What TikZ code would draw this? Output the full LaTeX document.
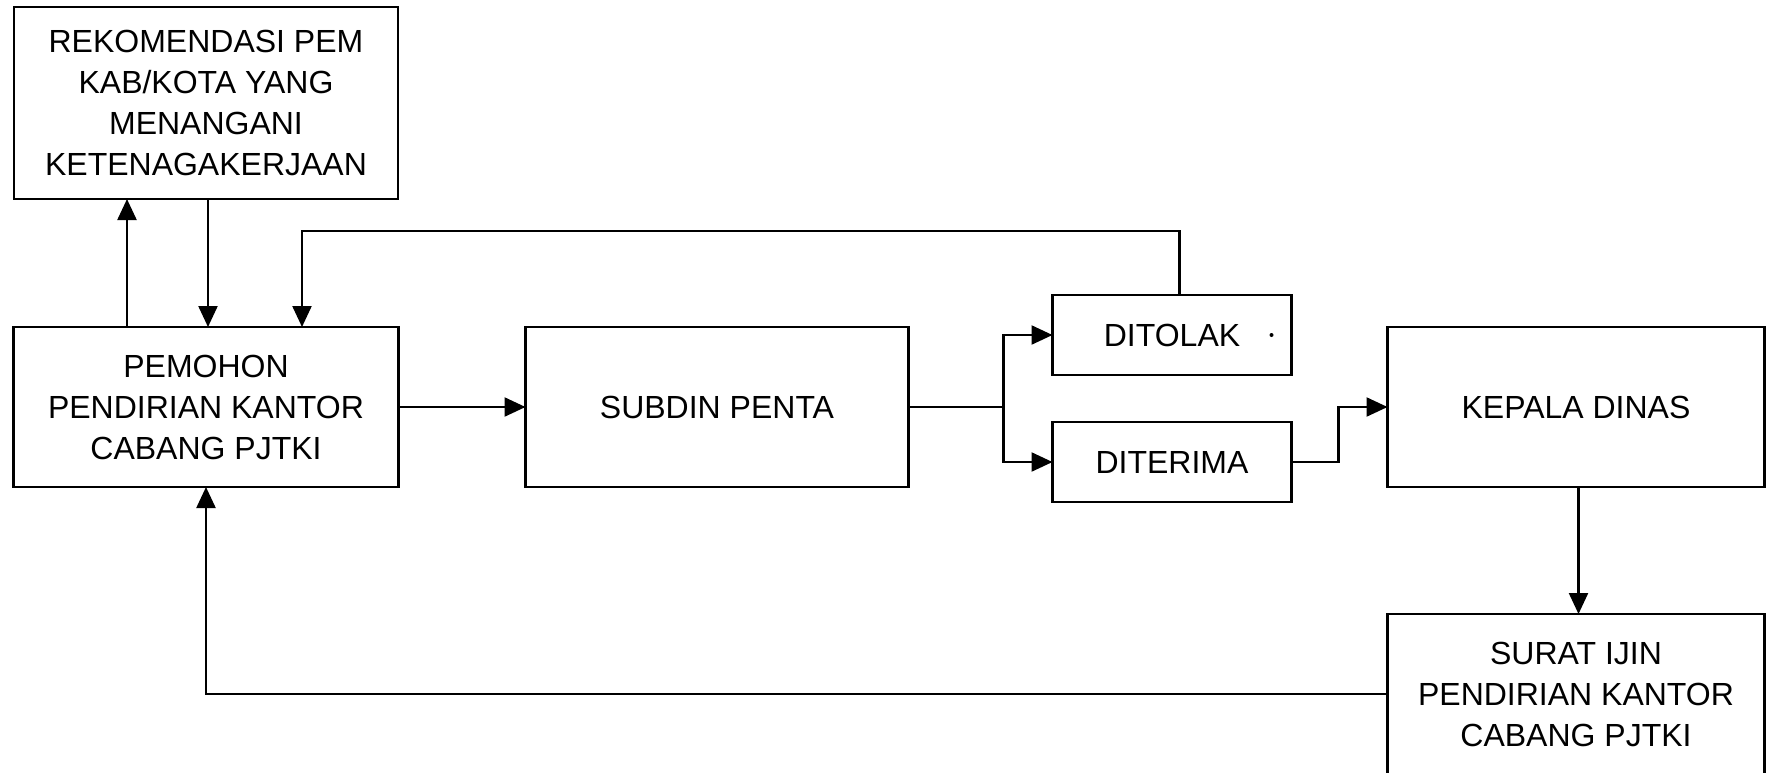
\documentclass[tikz,border=0pt]{standalone}
\usepackage{fontspec}
\setmainfont{Liberation Sans}
\usepackage{tikz}
\usetikzlibrary{arrows.meta}
\usetikzlibrary{positioning}
\usetikzlibrary{calc}
\tikzstyle{block} = [draw, rectangle, line width = 2.5pt, inner sep = 0pt, outer sep = 0pt, align = center, font = \fontsize{32}{41}\selectfont, minimum height = 160pt, minimum width = 385pt]
\tikzstyle{arrow} = [line width = 2.3pt, -{Triangle[length = 21pt, width = 19pt]}]
\tikzstyle{line} = [line width = 2.3pt]

\begin{document}
\begin{tikzpicture}[x = 1pt, y = -1pt]
		\useasboundingbox (0,0) rectangle (1767,772);
	
		% Applicant and recommendation
		\node[block] (pemohon) at (206,407) {PEMOHON\\PENDIRIAN KANTOR\\CABANG PJTKI};
		\node[block, minimum width = 384pt, minimum height = 192pt, above = 128pt of pemohon] (rekom) {REKOMENDASI PEM\\KAB/KOTA YANG\\MENANGANI\\KETENAGAKERJAAN};
		
		% Processing
		\node[block, minimum width = 383pt, right = 127pt of pemohon] (subdin) {SUBDIN PENTA};
		\coordinate[right = 95pt of subdin.east] (split);
		
		% Decision
		\node[block, minimum width = 239pt, minimum height = 80pt, right = 144pt of subdin, yshift = 72pt] (ditolak) {DITOLAK};
		\node[block, minimum width = 239pt, minimum height = 80pt, below = 47pt of ditolak] (diterima) {DITERIMA};
		\fill ([xshift = -20pt]ditolak.east) circle (2pt);
		
		% Head of office and permit
		\node[block, minimum width = 377pt, right = 479pt of subdin] (kepala) {KEPALA DINAS};
		\node[block, minimum width = 377pt, below = 127pt of kepala] (surat) {SURAT IJIN\\PENDIRIAN KANTOR\\CABANG PJTKI};
		
		% Connect all nodes defined above
		\draw[arrow] ([xshift = -79pt]pemohon.north) -- ([xshift = -79pt]rekom.south);
		\draw[arrow] ([xshift = 2pt]rekom.south) -- ([xshift = 2pt]pemohon.north);
		\draw[arrow] ([xshift = 7.5pt]ditolak.north) -- ++(0,-64) -| ([xshift = 96pt]pemohon.north);
		\draw[arrow] (pemohon.east) -- (subdin.west);
		\draw[line] (subdin.east) -- (split);
		\draw[arrow] (split) |- (ditolak.west);
		\draw[arrow] (split) |- (diterima.west);
		\draw[arrow] (diterima.east) -- ++(47,0) |- (kepala.west);
		\draw[arrow] ([xshift = 2.5pt]kepala.south) -- ([xshift = 2.5pt]surat.north);
		\draw[arrow] (surat.west) -| (pemohon.south);
	
	\end{tikzpicture}
\end{document}
